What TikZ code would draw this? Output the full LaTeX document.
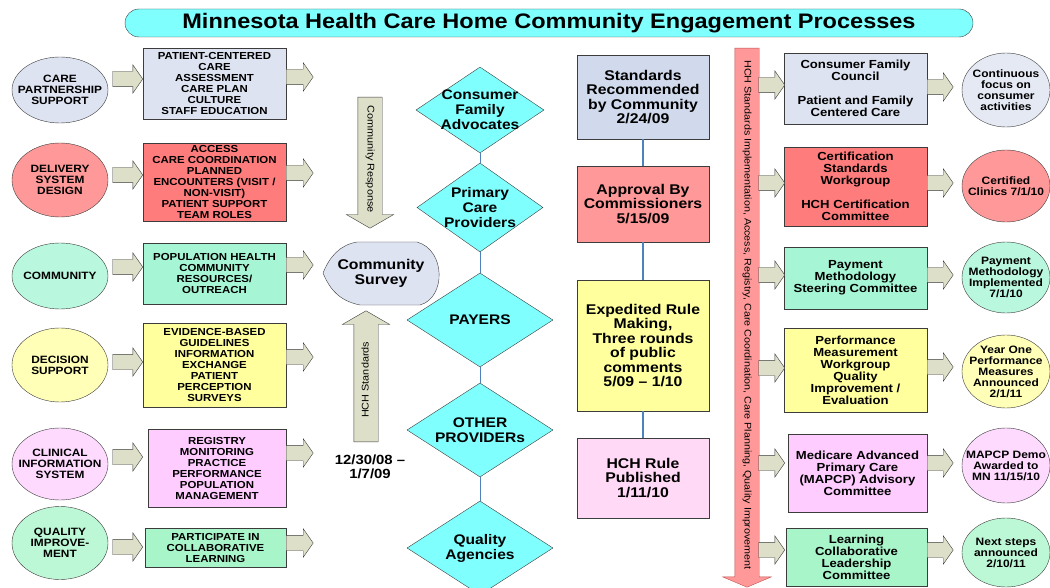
\documentclass[tikz,border=0pt]{standalone}
\usepackage{fontspec}
\setmainfont{Liberation Sans}[FakeStretch=1.12]
\usetikzlibrary{shapes.geometric,shapes.arrows}

\definecolor{aqua}{HTML}{80FFFF}
\definecolor{linegray}{HTML}{3C3C3C}
\definecolor{olivegray}{HTML}{DDDFC8}
\definecolor{paleblue}{HTML}{DEE3F1}
\definecolor{steelblue}{HTML}{D1DAEC}
\definecolor{salmon}{HTML}{FF9999}
\definecolor{coral}{HTML}{FF7C7C}
\definecolor{mint}{HTML}{A6F6D6}
\definecolor{palemint}{HTML}{B9F8DE}
\definecolor{lemon}{HTML}{FFFF9E}
\definecolor{paleyellow}{HTML}{FFFFB8}
\definecolor{orchid}{HTML}{FFCCFF}
\definecolor{paleorchid}{HTML}{FFDAFF}
\definecolor{blush}{HTML}{FFD9F6}
\definecolor{jade}{HTML}{A9F5CA}
\definecolor{palejade}{HTML}{BDF8D6}
\definecolor{linkblue}{HTML}{4F81BD}
\definecolor{rosered}{HTML}{C0504D}

\tikzset{
    titlebar/.style={rectangle, rounded corners=14pt, draw=linegray, fill=aqua, minimum width=848, minimum height=28, inner sep=0, font=\bfseries\fontsize{21}{21}\selectfont},
    oval/.style={ellipse, draw=linegray, minimum width=96, inner sep=-16pt, align=center, font=\bfseries\fontsize{10.6}{11}\selectfont},
    leftbox/.style={rectangle, draw=linegray, minimum width=143, inner sep=0, align=center, font=\bfseries\fontsize{10.2}{11}\selectfont},
    group/.style={diamond, draw=linegray, fill=aqua, inner sep=-14pt, align=center, font=\bfseries\fontsize{13.9}{15}\selectfont},
    datebox/.style={rectangle, draw=linegray, minimum width=132, inner sep=0, align=center, font=\bfseries\fontsize{14.1}{14.5}\selectfont},
    rightbox/.style={rectangle, draw=linegray, minimum width=143, inner sep=0, align=center, font=\bfseries\fontsize{11.7}{12}\selectfont},
    endoval/.style={ellipse, draw=linegray, minimum width=88, inner sep=-16pt, align=center, font=\bfseries\fontsize{10.7}{11}\selectfont},
    blockarrow/.style={single arrow, draw=linegray, fill=olivegray, inner xsep=0, inner ysep=7.5pt, single arrow head extend=6.5pt, single arrow tip angle=110, minimum height=#1},
    blockarrow/.default=28,
    tallarrow/.style={single arrow, draw=linegray, fill=olivegray, text height=7pt, text depth=2pt, inner xsep=0, inner ysep=7.5pt, single arrow head extend=11.5pt, single arrow tip angle=120, minimum height=131, font=\fontsize{9.7}{10}\selectfont},
    thin link/.style={draw=linkblue, line width=0.8pt},
    thick link/.style={draw=linkblue, line width=2.5pt}
}

\begin{document}
\begin{tikzpicture}[x=1pt, y=-1pt]
    \useasboundingbox (0,0) rectangle (1050,588);
    \node[titlebar] (title) at (549,23) {Minnesota Health Care Home Community Engagement Processes};

    % left column
    \node[oval, fill=paleblue, minimum height=66] (care) at (60,90) {CARE\\PARTNERSHIP\\SUPPORT};
    \node[oval, fill=salmon, minimum height=74] (delivery) at (60,180) {DELIVERY\\SYSTEM\\DESIGN};
    \node[oval, fill=palemint, minimum height=66] (community) at (60,276) {COMMUNITY};
    \node[oval, fill=paleyellow, minimum height=74] (decision) at (60,365) {DECISION\\SUPPORT};
    \node[oval, fill=paleorchid, minimum height=72] (clinical) at (60,464) {CLINICAL\\INFORMATION\\SYSTEM};
    \node[oval, fill=palejade, minimum height=73] (quality) at (60,543) {QUALITY\\IMPROVE-\\MENT};

    \node[leftbox, fill=paleblue, minimum height=71] (patient) at (214.5,83.5) {PATIENT-CENTERED\\CARE\\ASSESSMENT\\CARE PLAN\\CULTURE\\STAFF EDUCATION};
    \node[leftbox, fill=coral, minimum height=78] (access) at (214.5,182) {ACCESS\\CARE COORDINATION\\PLANNED\\ENCOUNTERS (VISIT /\\NON-VISIT)\\PATIENT SUPPORT\\TEAM ROLES};
    \node[leftbox, fill=mint, minimum height=61] (population) at (214.5,273.5) {POPULATION HEALTH\\COMMUNITY\\RESOURCES/\\OUTREACH};
    \node[leftbox, fill=lemon, minimum height=84] (evidence) at (214.5,365) {EVIDENCE-BASED\\GUIDELINES\\INFORMATION\\EXCHANGE\\PATIENT\\PERCEPTION\\SURVEYS};
    \node[leftbox, fill=orchid, minimum width=138, minimum height=78] (registry) at (217,468) {REGISTRY\\MONITORING\\PRACTICE\\PERFORMANCE\\POPULATION\\MANAGEMENT};
    \node[leftbox, fill=jade, minimum width=141, minimum height=39] (participate) at (215.5,547.5) {PARTICIPATE IN\\COLLABORATIVE\\LEARNING};

    \foreach \y [count=\i] in {79,175,267,362,457,547}
        \node[blockarrow=30, anchor=tip] (leftin\i) at (143,\y) {};
    \foreach \y [count=\i] in {77,173,265,357,453,543}
        \node[blockarrow=27, anchor=tail] (leftout\i) at (286,\y) {};

    % survey
    \node[tallarrow, rotate=-90, anchor=tail] (response) at (370,97) {Community Response};
    \node[tallarrow, rotate=90, anchor=tail] (standards) at (366,442) {HCH Standards};
    \draw[draw=linegray, fill=paleblue] (323,273) .. controls (330,256) and (340,245) .. (357,242) -- (417,242)
        .. controls (446,250) and (446,298) .. (420,305) -- (360,305) .. controls (340,301) and (330,290) .. (323,273) -- cycle;
    \node[font=\bfseries\fontsize{14.1}{15}\selectfont, align=center] (survey) at (381,273) {Community\\Survey};
    \node[font=\bfseries\fontsize{13.3}{13.5}\selectfont, align=center] (dates) at (370,467) {12/30/08 –\\1/7/09};

    % stakeholders
    \node[group, minimum width=128, minimum height=86] (consumer) at (480,110) {Consumer\\Family\\Advocates};
    \node[group, minimum width=126, minimum height=89] (primary) at (480,207.5) {Primary\\Care\\Providers};
    \node[group, minimum width=146, minimum height=94] (payers) at (480,320) {PAYERS};
    \node[group, minimum width=146, minimum height=94] (other) at (480,430) {OTHER\\PROVIDERs};
    \node[group, minimum width=146, minimum height=94] (agencies) at (480,548) {Quality\\Agencies};
    \path[thin link] (consumer) -- (primary) (primary) -- (payers) (payers) -- (other) (other) -- (agencies);

    % rule steps
    \node[datebox, fill=steelblue, minimum height=84] (recommended) at (643,97) {Standards\\Recommended\\by Community\\2/24/09};
    \node[datebox, fill=salmon, minimum height=76] (approval) at (643,204) {Approval By\\Commissioners\\5/15/09};
    \node[datebox, fill=lemon, minimum height=131] (expedited) at (643,345.5) {Expedited Rule\\Making,\\Three rounds\\of public\\comments\\5/09 – 1/10};
    \node[datebox, fill=blush, minimum height=80] (published) at (643,478) {HCH Rule\\Published\\1/11/10};
    \path[thick link] (recommended) -- (approval) (approval) -- (expedited) (expedited) -- (published);

    \node[tallarrow, rotate=-90, anchor=tail, draw=rosered, fill=salmon, minimum height=539, single arrow head extend=12pt, single arrow tip angle=134, font=\fontsize{9.6}{10}\selectfont] (implementation) at (747,48) {HCH Standards Implementation, Access, Registry, Care Coordination, Care Planning, Quality Improvement};

    % right column
    \node[rightbox, fill=paleblue, minimum height=71] (council) at (855.5,88.5) {Consumer Family\\Council\\[12pt]Patient and Family\\Centered Care};
    \node[rightbox, fill=coral, minimum height=79] (certification) at (855.5,186.5) {Certification\\Standards\\Workgroup\\[12pt]HCH Certification\\Committee};
    \node[rightbox, fill=mint, minimum height=62] (payment) at (855.5,278) {Payment\\Methodology\\Steering Committee};
    \node[rightbox, fill=lemon, minimum height=84] (performance) at (855.5,370) {Performance\\Measurement\\Workgroup\\Quality\\Improvement /\\Evaluation};
    \node[rightbox, fill=orchid, minimum width=139, minimum height=78] (mapcp) at (857.5,473) {Medicare Advanced\\Primary Care\\(MAPCP) Advisory\\Committee};
    \node[rightbox, fill=jade, minimum width=141, minimum height=58] (learning) at (856.5,557) {Learning\\Collaborative\\Leadership\\Committee};

    \foreach \y [count=\i] in {85,183,275,368,463,550}
        \node[blockarrow=26, anchor=tip] (rightin\i) at (785,\y) {};
    \foreach \y [count=\i] in {87,183,275,367,463,550}
        \node[blockarrow=26, anchor=tail] (rightout\i) at (927,\y) {};

    \node[endoval, fill=paleblue!80!white, minimum height=74] (focus) at (1006,90) {Continuous\\focus on\\consumer\\activities};
    \node[endoval, fill=salmon, minimum height=72] (certified) at (1006,186) {Certified\\Clinics 7/1/10};
    \node[endoval, fill=palemint, minimum height=71] (implemented) at (1006,277.5) {Payment\\Methodology\\Implemented\\7/1/10};
    \node[endoval, fill=paleyellow, minimum height=73] (yearone) at (1006,371.5) {Year One\\Performance\\Measures\\Announced\\2/1/11};
    \node[endoval, fill=paleorchid, minimum height=75] (demo) at (1006,465.5) {MAPCP Demo\\Awarded to\\MN 11/15/10};
    \node[endoval, fill=palejade, minimum height=69] (nextsteps) at (1006,552.5) {Next steps\\announced\\2/10/11};
\end{tikzpicture}
\end{document}
